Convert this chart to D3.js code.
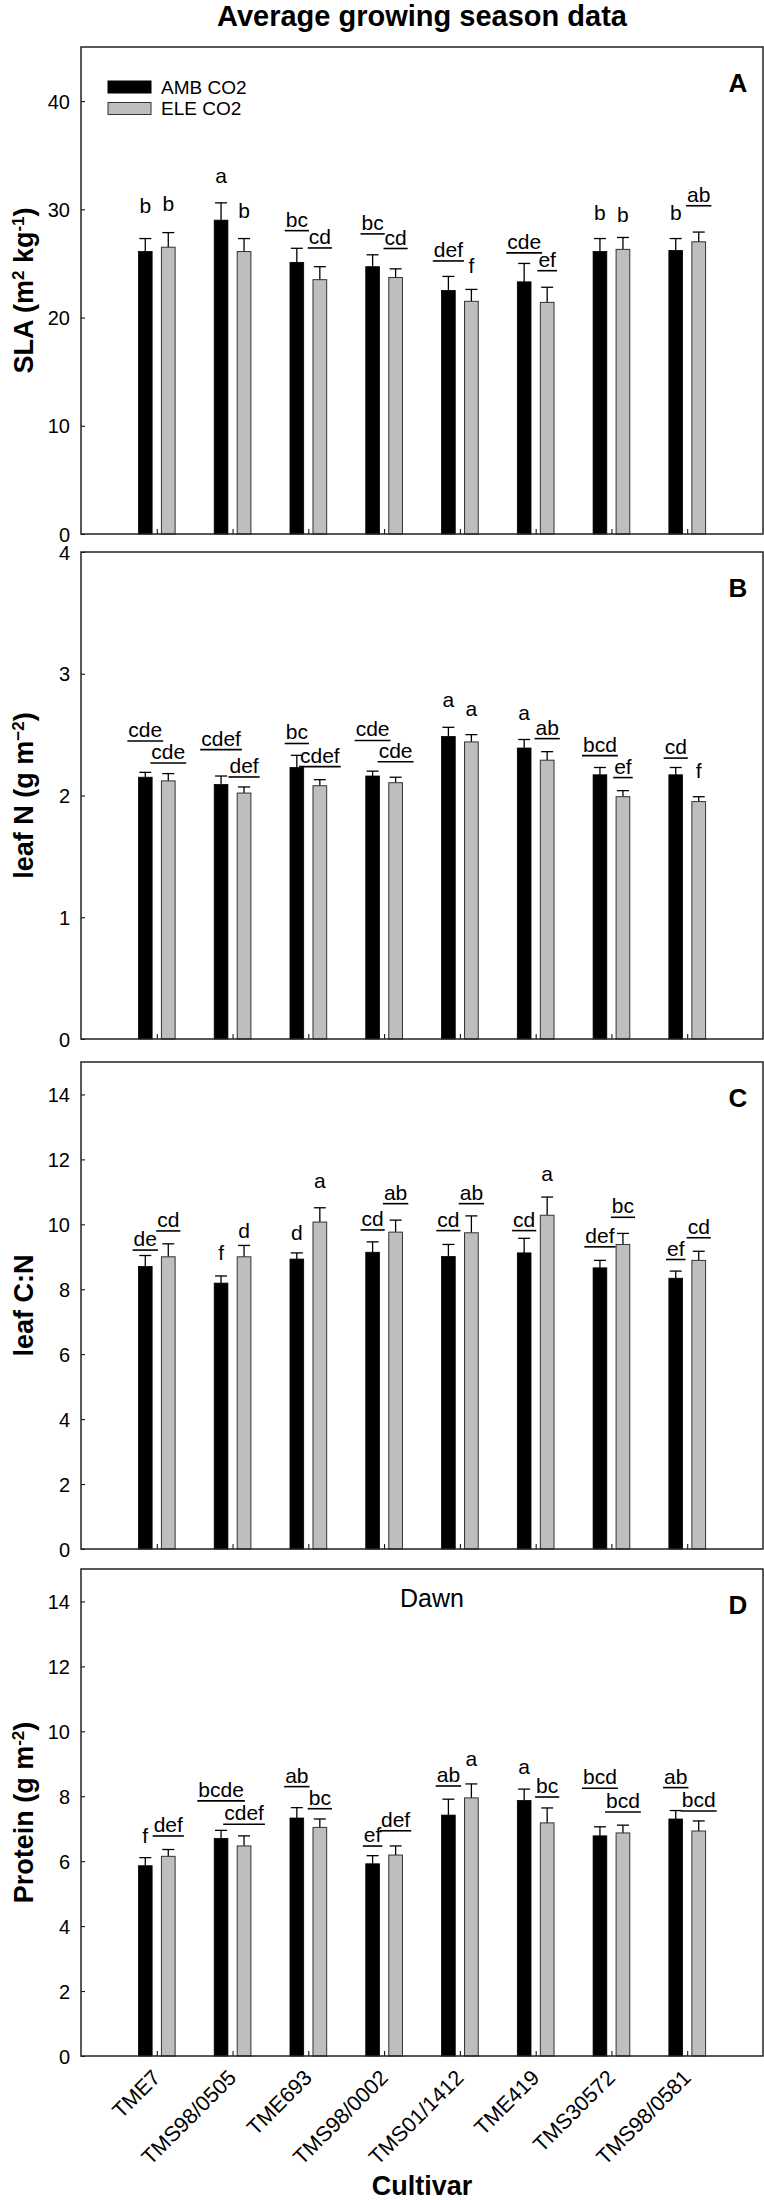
<!DOCTYPE html>
<html><head><meta charset="utf-8">
<script src="https://cdn.jsdelivr.net/npm/d3@7"></script>
<style>
html,body{margin:0;padding:0;background:#fff;}
svg{display:block;}
text{font-family:"Liberation Sans",Arial,Helvetica,sans-serif;fill:#000;}
</style></head>
<body>
<script>
// ---------- data ----------
const categories = ["TME7","TMS98/0505","TME693","TMS98/0002","TMS01/1412","TME419","TMS30572","TMS98/0581"];
const seriesNames = ["AMB CO2","ELE CO2"];

// Panel A: SLA
const slaAmb   = [26.1, 29.0, 25.1, 24.7, 22.5, 23.3, 26.1, 26.2];
const slaAmbSE = [1.2, 1.6, 1.3, 1.1, 1.3, 1.7, 1.2, 1.1];
const slaEle   = [26.5, 26.1, 23.5, 23.7, 21.5, 21.4, 26.3, 27.0];
const slaEleSE = [1.35, 1.2, 1.2, 0.8, 1.1, 1.4, 1.1, 0.9];
const slaAmbLetters = ["b","a","bc","bc","def","cde","b","b"];
const slaEleLetters = ["b","b","cd","cd","f","ef","b","ab"];
const slaAmbLetterAt = [29.7, 32.4, 28.4, 28.1, 25.6, 26.35, 29.05, 29.05];
const slaEleLetterAt = [29.8, 29.2, 26.8, 26.75, 24.1, 24.7, 28.8, 30.7];
const slaTicks = [0, 10, 20, 30, 40];

// Panel B: leaf N
const nAmb   = [2.15, 2.09, 2.23, 2.16, 2.485, 2.39, 2.17, 2.17];
const nAmbSE = [0.04, 0.07, 0.10, 0.04, 0.075, 0.07, 0.06, 0.06];
const nEle   = [2.12, 2.02, 2.08, 2.105, 2.44, 2.29, 1.99, 1.95];
const nEleSE = [0.06, 0.05, 0.05, 0.045, 0.06, 0.07, 0.05, 0.04];
const nAmbLetters = ["cde","cdef","bc","cde","a","a","bcd","cd"];
const nEleLetters = ["cde","def","cdef","cde","a","ab","ef","f"];
const nAmbLetterAt = [2.48, 2.41, 2.46, 2.485, 2.73, 2.62, 2.36, 2.34];
const nEleLetterAt = [2.30, 2.185, 2.27, 2.31, 2.65, 2.50, 2.18, 2.14];
const nTicks = [0, 1, 2, 3, 4];

// Panel C: leaf C:N
const cnAmb   = [8.70, 8.19, 8.93, 9.14, 9.01, 9.12, 8.66, 8.34];
const cnAmbSE = [0.34, 0.22, 0.19, 0.32, 0.37, 0.45, 0.23, 0.22];
const cnEle   = [9.00, 9.00, 10.07, 9.76, 9.74, 10.28, 9.38, 8.89];
const cnEleSE = [0.40, 0.35, 0.44, 0.37, 0.52, 0.56, 0.34, 0.28];
const cnAmbLetters = ["de","f","d","cd","cd","cd","def","ef"];
const cnEleLetters = ["cd","d","a","ab","ab","a","bc","cd"];
const cnAmbLetterAt = [9.33, 8.89, 9.53, 9.95, 9.93, 9.93, 9.43, 9.04];
const cnEleLetterAt = [9.92, 9.59, 11.11, 10.76, 10.76, 11.32, 10.34, 9.71];
const cnTicks = [0, 2, 4, 6, 8, 10, 12, 14];

// Panel D: Protein (Dawn)
const protAmb   = [5.86, 6.70, 7.33, 5.92, 7.42, 7.87, 6.78, 7.30];
const protAmbSE = [0.25, 0.25, 0.32, 0.25, 0.49, 0.35, 0.28, 0.26];
const protEle   = [6.15, 6.47, 7.04, 6.19, 7.95, 7.18, 6.87, 6.93];
const protEleSE = [0.21, 0.31, 0.26, 0.28, 0.43, 0.46, 0.24, 0.31];
const protAmbLetters = ["f","bcde","ab","ef","ab","a","bcd","ab"];
const protEleLetters = ["def","cdef","bc","def","a","bc","bcd","bcd"];
const protAmbLetterAt = [6.56, 7.98, 8.42, 6.59, 8.44, 8.68, 8.37, 8.39];
const protEleLetterAt = [6.90, 7.26, 7.74, 7.06, 8.92, 8.10, 7.64, 7.67];
const protTicks = [0, 2, 4, 6, 8, 10, 12, 14];

const titleText = "Average growing season data";
const xTitle = "Cultivar";

// ---------- layout ----------
const W = 764, H = 2200;
const left = 81, right = 763;
const panelH = 487;
const FONT = '"Liberation Sans",Arial,Helvetica,sans-serif';

const panels = [
  {top: 47,   max: 45, ticks: slaTicks, amb: slaAmb, ambSE: slaAmbSE, ele: slaEle, eleSE: slaEleSE,
   aL: slaAmbLetters, eL: slaEleLetters, aAt: slaAmbLetterAt, eAt: slaEleLetterAt, tag: "A",
   ylab: [["SLA (m",null],["2","sup"],[" kg",null],["-1","sup"],[")",null]], legend: true},
  {top: 552,  max: 4, ticks: nTicks, amb: nAmb, ambSE: nAmbSE, ele: nEle, eleSE: nEleSE,
   aL: nAmbLetters, eL: nEleLetters, aAt: nAmbLetterAt, eAt: nEleLetterAt, tag: "B",
   ylab: [["leaf N (g m",null],["\u22122","sup"],[")",null]]},
  {top: 1062, max: 15, ticks: cnTicks, amb: cnAmb, ambSE: cnAmbSE, ele: cnEle, eleSE: cnEleSE,
   aL: cnAmbLetters, eL: cnEleLetters, aAt: cnAmbLetterAt, eAt: cnEleLetterAt, tag: "C",
   ylab: [["leaf C:N",null]]},
  {top: 1569, max: 15, ticks: protTicks, amb: protAmb, ambSE: protAmbSE, ele: protEle, eleSE: protEleSE,
   aL: protAmbLetters, eL: protEleLetters, aAt: protAmbLetterAt, eAt: protEleLetterAt, tag: "D",
   ylab: [["Protein (g m",null],["-2","sup"],[")",null]], note: "Dawn", xlabels: true}
];

const svg = d3.select("body").append("svg").attr("width", W).attr("height", H);

svg.append("text").attr("x", 422).attr("y", 26).attr("text-anchor","middle")
  .style("font-size","29px").style("font-weight","bold").text(titleText);

const x = d3.scalePoint().domain(categories).range([left, right]).padding(1);
const barW = 13.7, off = 11.5, capW = 12;

panels.forEach(p => {
  const bottom = p.top + panelH;
  const y = d3.scaleLinear().domain([0, p.max]).range([bottom, p.top]);
  const g = svg.append("g");

  // y axis (inward ticks)
  const ya = g.append("g").attr("transform",`translate(${left},0)`)
    .call(d3.axisLeft(y).tickValues(p.ticks).tickSize(-4).tickPadding(11).tickFormat(d3.format("d")));
  ya.select(".domain").remove();
  ya.selectAll("line").attr("stroke","#000").attr("stroke-width",1);
  ya.selectAll("text").style("font-size","20px").style("font-family",FONT).attr("dy","0.36em");

  // x axis tick marks (inward)
  const xa = g.append("g").attr("transform",`translate(0,${bottom})`)
    .call(d3.axisBottom(x).tickSize(-5).tickFormat(""));
  xa.select(".domain").remove();
  xa.selectAll("line").attr("stroke","#000").attr("stroke-width",1);

  const rows = categories.map((c,i)=>({c, i,
    a: p.amb[i], aSE: p.ambSE[i], e: p.ele[i], eSE: p.eleSE[i],
    aL: p.aL[i], eL: p.eL[i], aAt: p.aAt[i], eAt: p.eAt[i]}));

  // error bars (upper only)
  const eb = (cx, v, se) => {
    g.append("line").attr("x1",cx).attr("x2",cx).attr("y1",y(v)).attr("y2",y(v+se))
      .attr("stroke","#000").attr("stroke-width",1.3);
    g.append("line").attr("x1",cx-capW/2).attr("x2",cx+capW/2).attr("y1",y(v+se)).attr("y2",y(v+se))
      .attr("stroke","#000").attr("stroke-width",1.3);
  };
  rows.forEach(r => {
    const cx = x(r.c);
    eb(cx-off, r.a, r.aSE);
    eb(cx+off, r.e, r.eSE);
  });

  // bars
  g.selectAll("rect.amb").data(rows).join("rect").attr("class","amb")
    .attr("x", d => x(d.c)-off-barW/2).attr("width", barW)
    .attr("y", d => y(d.a)).attr("height", d => y(0)-y(d.a))
    .attr("fill","#000").attr("stroke","#000").attr("stroke-width",0.8);
  g.selectAll("rect.ele").data(rows).join("rect").attr("class","ele")
    .attr("x", d => x(d.c)+off-barW/2).attr("width", barW)
    .attr("y", d => y(d.e)).attr("height", d => y(0)-y(d.e))
    .attr("fill","#bebebe").attr("stroke","#333").attr("stroke-width",1);

  // significance letters
  const letter = (cx, v, s) => {
    const t = g.append("text").attr("x",cx).attr("y",y(v)).attr("text-anchor","middle")
      .style("font-size","21px").text(s);
    if (s.length > 1) {
      const w = t.node().getComputedTextLength();
      g.append("line").attr("x1",cx-w/2-1).attr("x2",cx+w/2+1)
        .attr("y1",y(v)+4).attr("y2",y(v)+4).attr("stroke","#000").attr("stroke-width",1.6);
    }
  };
  rows.forEach(r => {
    const cx = x(r.c);
    letter(cx-off, r.aAt, r.aL);
    letter(cx+off, r.eAt, r.eL);
  });

  // frame
  g.append("rect").attr("x",left).attr("y",p.top).attr("width",right-left).attr("height",panelH)
    .attr("fill","none").attr("stroke","#222").attr("stroke-width",1.5);

  // panel tag
  g.append("text").attr("x",738).attr("y",p.top+45).attr("text-anchor","middle")
    .style("font-size","26px").style("font-weight","bold").text(p.tag);

  if (p.note) {
    g.append("text").attr("x",432).attr("y",p.top+38).attr("text-anchor","middle")
      .style("font-size","25px").text(p.note);
  }

  // y title
  const yt = g.append("text").attr("transform",`translate(33,${(p.top+bottom)/2}) rotate(-90)`)
    .attr("text-anchor","middle").style("font-size","27px").style("font-weight","bold");
  p.ylab.forEach(([s,kind]) => {
    const ts = yt.append("tspan").text(s);
    if (kind === "sup") ts.attr("baseline-shift","super").style("font-size","17px");
  });

  // legend
  if (p.legend) {
    const lg = g.append("g");
    const cols = [{fill:"#000",stroke:"#000"},{fill:"#bebebe",stroke:"#333"}];
    seriesNames.forEach((n,i) => {
      const yy = 81 + i*21.5;
      lg.append("rect").attr("x",108).attr("y",yy).attr("width",43).attr("height",12)
        .attr("fill",cols[i].fill).attr("stroke",cols[i].stroke).attr("stroke-width",1);
      lg.append("text").attr("x",161).attr("y",yy+12.5).style("font-size","19px").text(n);
    });
  }

  if (p.xlabels) {
    categories.forEach(c => {
      g.append("text").attr("transform",`translate(${x(c)+5},${bottom+23}) rotate(-45)`)
        .attr("text-anchor","end").style("font-size","21.5px").text(c);
    });
    svg.append("text").attr("x",422).attr("y",2195).attr("text-anchor","middle")
      .style("font-size","27px").style("font-weight","bold").text(xTitle);
  }
});
</script>
</body></html>
